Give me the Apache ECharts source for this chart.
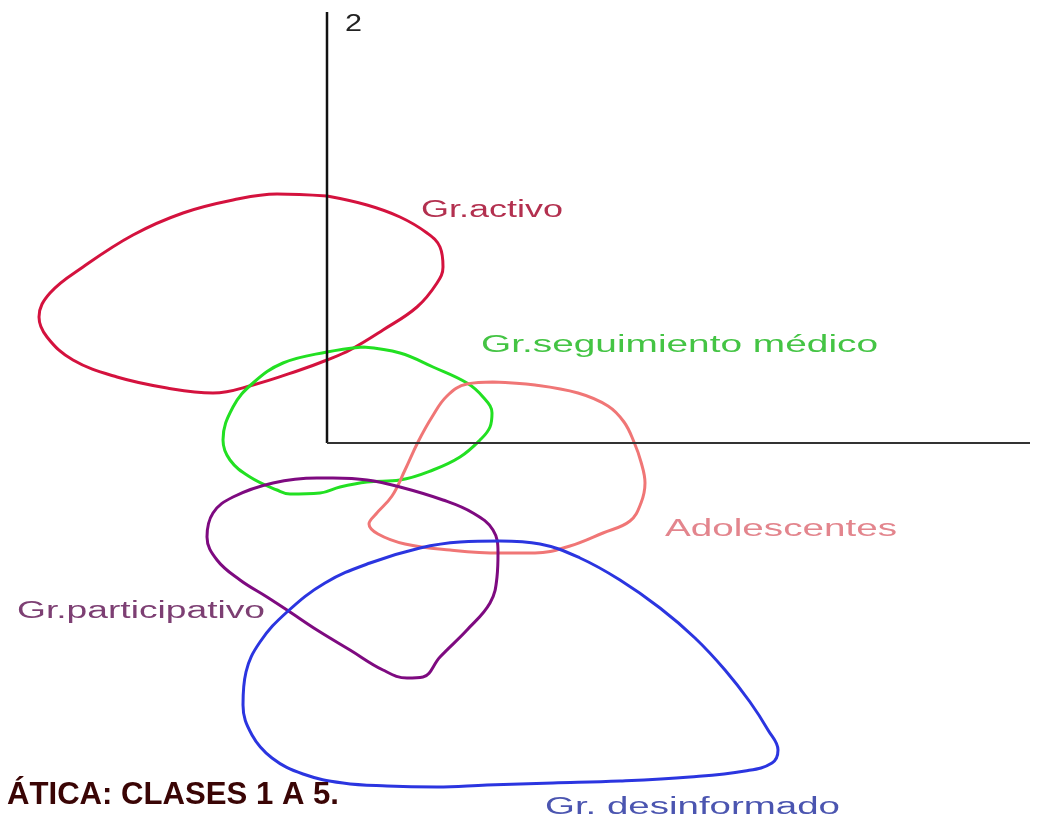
<!DOCTYPE html>
<html>
<head>
<meta charset="utf-8">
<script src="https://cdn.jsdelivr.net/npm/echarts@6/dist/echarts.min.js"></script>
<style>
html,body{margin:0;padding:0;background:#fff;}
#chart{width:1047px;height:821px;}
</style>
</head>
<body>
<div id="chart"></div>
<script>
// ---- data (factor-plane coordinates, origin at the axes crossing) ----
const grActivo = [[0,2.47],[0.40,2.38],[0.73,2.26],[1.00,2.10],[1.13,1.96],[1.16,1.76],[1.10,1.60],[0.90,1.36],[0.56,1.13],[0.23,0.93],[0,0.83],[-0.27,0.73],[-0.74,0.58],[-1.14,0.50],[-1.60,0.55],[-2.10,0.66],[-2.54,0.83],[-2.80,1.06],[-2.88,1.26],[-2.77,1.50],[-2.44,1.76],[-1.94,2.08],[-1.44,2.30],[-0.94,2.43],[-0.50,2.49],[0,2.47]];
const grSeguimiento = [[0.36,0.96],[0.73,0.90],[1.06,0.76],[1.40,0.60],[1.56,0.46],[1.65,0.30],[1.63,0.16],[1.53,0.03],[1.33,-0.14],[1.06,-0.27],[0.73,-0.37],[0.40,-0.39],[0.13,-0.44],[-0.07,-0.50],[-0.37,-0.51],[-0.50,-0.47],[-0.77,-0.34],[-0.97,-0.17],[-1.04,0.03],[-0.94,0.36],[-0.74,0.60],[-0.44,0.80],[0,0.91],[0.36,0.96]];
const adolescentes = [[1.66,0.61],[2.08,0.58],[2.51,0.50],[2.81,0.37],[2.97,0.21],[3.07,0.01],[3.14,-0.19],[3.18,-0.40],[3.14,-0.60],[3.03,-0.78],[2.76,-0.90],[2.43,-1.03],[2.08,-1.10],[1.73,-1.10],[1.23,-1.07],[0.78,-1.01],[0.51,-0.91],[0.42,-0.81],[0.49,-0.71],[0.65,-0.53],[0.78,-0.27],[0.91,0.01],[1.05,0.26],[1.20,0.47],[1.40,0.59],[1.66,0.61]];
const grParticipativo = [[0.06,-0.35],[0.40,-0.37],[0.73,-0.44],[1.16,-0.57],[1.46,-0.70],[1.66,-0.87],[1.71,-1.10],[1.70,-1.34],[1.63,-1.60],[1.40,-1.87],[1.13,-2.14],[0.96,-2.34],[0.80,-2.35],[0.56,-2.27],[0.23,-2.07],[-0.10,-1.87],[-0.37,-1.69],[-0.60,-1.54],[-0.87,-1.37],[-1.10,-1.17],[-1.20,-0.94],[-1.14,-0.70],[-0.94,-0.54],[-0.54,-0.40],[-0.10,-0.35],[0.06,-0.35]];
const grDesinformado = [[1.73,-0.98],[2.13,-1.01],[2.53,-1.15],[2.93,-1.37],[3.33,-1.65],[3.68,-1.95],[3.98,-2.27],[4.23,-2.59],[4.41,-2.87],[4.51,-3.07],[4.45,-3.20],[4.18,-3.28],[3.63,-3.34],[2.93,-3.38],[2.26,-3.40],[1.60,-3.42],[1.10,-3.44],[0.60,-3.43],[0.16,-3.40],[-0.24,-3.31],[-0.55,-3.15],[-0.75,-2.92],[-0.84,-2.62],[-0.81,-2.29],[-0.67,-1.99],[-0.40,-1.69],[-0.02,-1.40],[0.43,-1.20],[0.93,-1.05],[1.33,-0.99],[1.73,-0.98]];
const axisVertical = [[0,4.31],[0,0]];
const axisHorizontal = [[0,0],[7.03,0]];
const groupNames = ['Gr.activo','Gr.seguimiento médico','Adolescentes','Gr.participativo','Gr. desinformado'];
const groupLabelAnchors = [[0.94,2.32],[1.54,0.97],[3.38,-0.87],[-3.10,-1.69],[2.18,-3.65]];
const axisTickLabel = '2';
const axisTickAnchor = [0.18,4.18];
const titleText = 'ÁTICA: CLASES 1 A 5.';

// ---- styling ----
const curves = [grActivo, grSeguimiento, adolescentes, grParticipativo, grDesinformado];
const lineColors = ['#d4123e','#22e022','#f07676','#7e0a80','#2b35e0'];
const labelColors = ['#b3304f','#44c444','#e3858d','#7d3f73','#4b55b0'];
const labelWidths = [142,397,232,248,295];

const chart = echarts.init(document.getElementById('chart'), null, {renderer:'canvas'});
const series = curves.map((d,i)=>({
  type:'line', name:groupNames[i], data:d, smooth:0.4, symbol:'none',
  lineStyle:{color:lineColors[i], width:3}, z:2, silent:true, animation:false
}));
series.push({type:'line', data:axisVertical, symbol:'none', lineStyle:{color:'#111', width:2.5}, z:5, animation:false});
series.push({type:'line', data:axisHorizontal, symbol:'none', lineStyle:{color:'#333', width:2.2}, z:5, animation:false});

chart.setOption({
  backgroundColor:'#ffffff',
  animation:false,
  grid:{left:0,right:0,top:0,bottom:0},
  xAxis:{type:'value', min:-3.27, max:7.20, show:false},
  yAxis:{type:'value', min:-3.78, max:4.43, show:false},
  series:series
});

const cv = document.createElement('canvas').getContext('2d');
function measure(text, font){ cv.font = font; return cv.measureText(text).width; }
const labelFont = '23px "Liberation Sans", Arial, sans-serif';
const graphics = groupNames.map((name,i)=>{
  const p = chart.convertToPixel({gridIndex:0}, groupLabelAnchors[i]);
  const w = measure(name, labelFont);
  return {type:'text', x:p[0], y:p[1], scaleX: labelWidths[i]/w, z:10,
    style:{text:name, font:labelFont, fill:labelColors[i], verticalAlign:'middle', align:'left'}};
});
const tp = chart.convertToPixel({gridIndex:0}, axisTickAnchor);
graphics.push({type:'text', x:tp[0], y:tp[1], scaleX:17/measure(axisTickLabel,labelFont), z:10,
  style:{text:axisTickLabel, font:labelFont, fill:'#222', verticalAlign:'middle', align:'left'}});
const titleFont = 'bold 31px "Liberation Sans", Arial, sans-serif';
graphics.push({type:'text', x:7, y:795, scaleX:332/measure(titleText,titleFont), z:10,
  style:{text:titleText, font:titleFont, fill:'#3a0505', verticalAlign:'middle', align:'left'}});
chart.setOption({graphic:graphics});
</script>
</body>
</html>
